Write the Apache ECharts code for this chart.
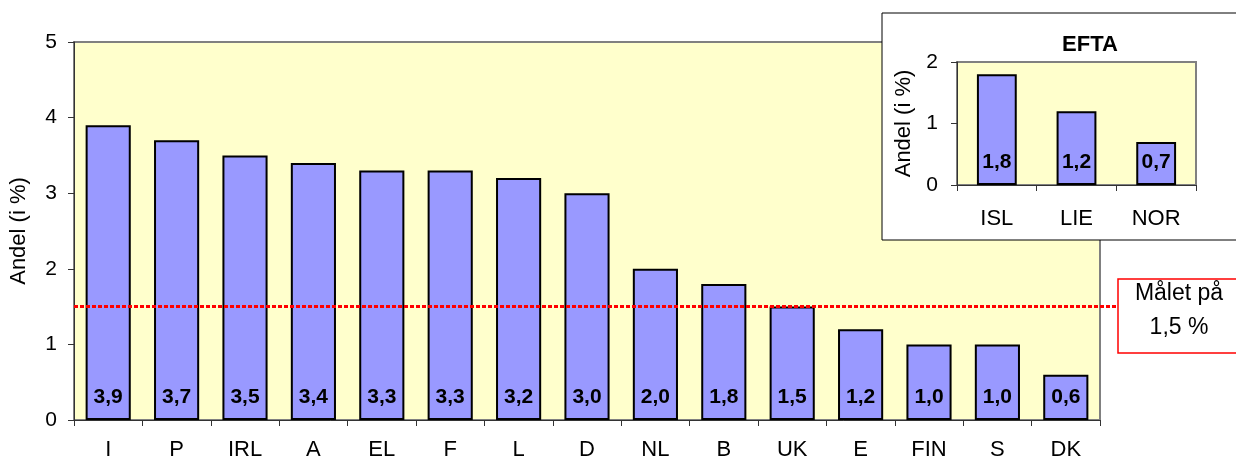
<!DOCTYPE html>
<html>
<head>
<meta charset="utf-8">
<script src="https://cdn.jsdelivr.net/npm/echarts@6/dist/echarts.min.js"></script>
<style>
  html, body { margin: 0; padding: 0; background: #fff; }
  #chart { width: 1236px; height: 462px; }
</style>
</head>
<body>
<div id="chart"></div>
<script>
// main chart: EU countries
const categories = ['I', 'P', 'IRL', 'A', 'EL', 'F', 'L', 'D', 'NL', 'B', 'UK', 'E', 'FIN', 'S', 'DK'];
const values = [3.9, 3.7, 3.5, 3.4, 3.3, 3.3, 3.2, 3.0, 2.0, 1.8, 1.5, 1.2, 1.0, 1.0, 0.6];

// inset: EFTA
const eftaCategories = ['ISL', 'LIE', 'NOR'];
const eftaValues = [1.8, 1.2, 0.7];

// target line
const target = 1.5;

const font = 'Liberation Sans, Arial, sans-serif';
const fmt = v => v.toFixed(1).replace('.', ',');

const barStyle = { color: '#9999FF', borderColor: '#000', borderWidth: 2 };
const barLabel = {
  show: true, position: 'insideBottom', distance: 12,
  fontFamily: font, fontSize: 21, fontWeight: 'bold', color: '#000',
  formatter: p => fmt(p.value)
};

const myChart = echarts.init(document.getElementById('chart'));

const option = {
  animation: false,
  textStyle: { fontFamily: font },
  grid: [
    { left: 74, right: 136, top: 42, bottom: 42, show: true, outerBoundsMode: 'none',
      backgroundColor: '#FFFFCC', borderColor: '#808080', borderWidth: 2 },
    { left: 957, right: 40, top: 62, bottom: 277, show: true, z: 6, outerBoundsMode: 'none',
      backgroundColor: '#FFFFCC', borderColor: '#808080', borderWidth: 2 },
    // wider grid for the target line, running out to the label box
    { left: 74, right: 118, top: 42, bottom: 42, outerBoundsMode: 'none' }
  ],
  xAxis: [
    { gridIndex: 0, type: 'category', data: categories,
      axisLine: { lineStyle: { color: '#333', width: 1 } },
      axisTick: { show: true, length: 6, lineStyle: { color: '#333' } },
      axisLabel: { color: '#000', fontSize: 22, margin: 19, fontFamily: font } },
    { gridIndex: 1, type: 'category', data: eftaCategories, z: 7,
      axisLine: { lineStyle: { color: '#333', width: 1 } },
      axisTick: { show: true, length: 6, lineStyle: { color: '#333' } },
      axisLabel: { color: '#000', fontSize: 22, margin: 23, fontFamily: font } },
    { gridIndex: 2, type: 'value', min: 0, max: 1, show: false }
  ],
  yAxis: [
    { gridIndex: 0, type: 'value', min: 0, max: 5, interval: 1,
      name: 'Andel (i %)', nameLocation: 'middle', nameGap: 44, nameRotate: 90,
      nameTextStyle: { fontSize: 22, color: '#000', fontFamily: font },
      axisLine: { show: true, lineStyle: { color: '#333', width: 1 } },
      axisTick: { show: true, length: 6, lineStyle: { color: '#333' } },
      axisLabel: { color: '#000', fontSize: 21, margin: 17, fontFamily: font },
      splitLine: { show: false } },
    { gridIndex: 1, type: 'value', min: 0, max: 2, interval: 1, z: 7,
      name: 'Andel (i %)', nameLocation: 'middle', nameGap: 42, nameRotate: 90,
      nameTextStyle: { fontSize: 22, color: '#000', fontFamily: font },
      axisLine: { show: true, lineStyle: { color: '#333', width: 1 } },
      axisTick: { show: true, length: 6, lineStyle: { color: '#333' } },
      axisLabel: { color: '#000', fontSize: 21, margin: 19, fontFamily: font },
      splitLine: { show: false } },
    { gridIndex: 2, type: 'value', min: 0, max: 5, show: false }
  ],
  title: {
    text: 'EFTA', left: 1085, top: 29, textAlign: 'center', z: 8,
    textStyle: { fontSize: 22, fontWeight: 'bold', color: '#000', fontFamily: font }
  },
  graphic: [
    { type: 'rect', z: 5, shape: { x: 882, y: 13, width: 360, height: 227 },
      style: { fill: '#fff', stroke: '#000', lineWidth: 1 } },
    { type: 'rect', z: 5, shape: { x: 1118, y: 279, width: 130, height: 74 },
      style: { fill: '#fff', stroke: '#FF0000', lineWidth: 1.5 } },
    { type: 'text', z: 6, x: 1179, y: 311,
      style: { text: 'Målet på\n' + fmt(target) + ' %', fill: '#000',
        font: '23px ' + font, align: 'center', verticalAlign: 'middle', lineHeight: 34 } }
  ],
  series: [
    { type: 'bar', xAxisIndex: 0, yAxisIndex: 0, data: values,
      barCategoryGap: '34%', itemStyle: barStyle, label: barLabel },
    { type: 'bar', xAxisIndex: 1, yAxisIndex: 1, data: eftaValues, z: 7,
      barCategoryGap: '50%', itemStyle: barStyle, label: barLabel },
    { type: 'line', xAxisIndex: 2, yAxisIndex: 2, z: 3, symbol: 'none', silent: true,
      data: [[0, target], [1, target]],
      lineStyle: { color: '#FF0000', width: 3, type: [4, 2] } }
  ]
};

myChart.setOption(option);
</script>
</body>
</html>
